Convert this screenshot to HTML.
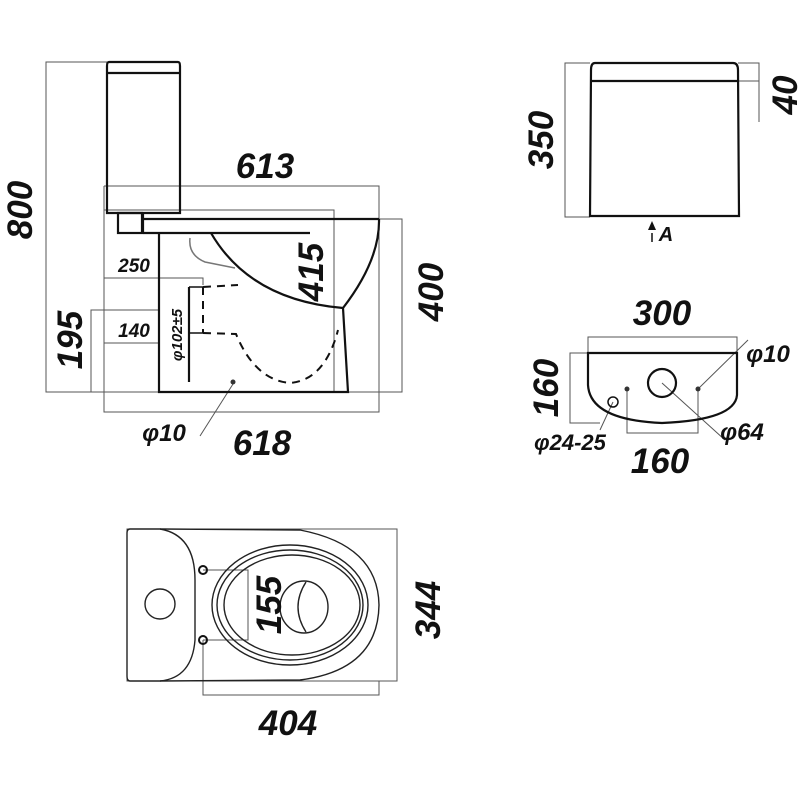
<!DOCTYPE html>
<html><head><style>html,body{margin:0;background:#fff}svg{display:block}
text{font-family:"Liberation Sans",sans-serif;font-style:italic;font-weight:bold;fill:#111}</style></head>
<body>
<svg width="800" height="800" viewBox="0 0 800 800" xmlns="http://www.w3.org/2000/svg">
<g fill="none" stroke="#555" stroke-width="1">
<polyline points="107,62 46,62 46,392 402,392 402,219 379,219"/>
<polyline points="104,186 379,186 379,412 104,412 104,186"/>
<polyline points="104,210 334,210 334,392"/>
<polyline points="104,278 203,278 203,285"/>
<line x1="104" y1="343" x2="159" y2="343"/>
<polyline points="159,310 91,310 91,392"/>
<line x1="233" y1="384" x2="200" y2="436"/>
<rect x="127" y="529" width="270" height="152"/>
<polyline points="203,640 203,695 379,695 379,681"/>
<polyline points="203,570 248,570 248,640 203,640"/>
<polyline points="590,63 565,63 565,217 590,217"/>
<polyline points="738,63 759,63 759,122"/>
<line x1="738" y1="81" x2="759" y2="81"/>
<polyline points="588,353 588,337 737,337 737,353"/>
<polyline points="588,353 570,353 570,423 600,423"/>
<polyline points="627,389 627,433 698,433 698,389"/>
<line x1="698" y1="389" x2="748" y2="340"/>
<line x1="662" y1="383" x2="725" y2="440"/>
<line x1="613" y1="402" x2="600" y2="430"/>
</g>
<g fill="none" stroke="#111" stroke-width="2.2">
<path d="M109,62 L178,62 Q180,62 180,66 L180,213 L107,213 L107,66 Q107,62 109,62 Z"/>
<line x1="108" y1="73" x2="179" y2="73"/>
<rect x="118" y="213" width="24" height="20"/>
<line x1="143" y1="219" x2="379" y2="219"/>
<line x1="143" y1="233" x2="310" y2="233"/>
<line x1="143" y1="213" x2="143" y2="233"/>
<path d="M159,233 L159,392 L348,392 L343,308 Q380,260 379,219"/>
<path d="M211,233 Q250,300 343,308"/>
<line x1="189" y1="287" x2="189" y2="382"/>
<line x1="189" y1="287" x2="203" y2="287" stroke-width="1.5"/>
<line x1="189" y1="333" x2="203" y2="333" stroke-width="1.5"/>
</g>
<path d="M190,238 Q188,255 205,262 L235,268" fill="none" stroke="#777" stroke-width="1.5"/>
<g fill="none" stroke="#111" stroke-width="2" stroke-dasharray="8,6">
<path d="M203,287 L238,285"/>
<path d="M203,287 L203,333"/>
<path d="M203,333 L236,334 Q255,380 290,383 Q325,380 338,330"/>
</g>
<circle cx="233" cy="382" r="2.5" fill="#333"/>
<g fill="none" stroke="#222" stroke-width="1.4">
<path d="M130,529 L160,529 Q195,535 195,580 L195,640 Q192,678 160,681 L130,681 Q127,681 127,676 L127,533 Q127,529 130,529 Z"/>
<path d="M160,529 L300,530 Q378,545 379,605 Q378,670 300,680 L160,681"/>
<ellipse cx="290" cy="605" rx="78" ry="60"/>
<ellipse cx="290" cy="605" rx="73" ry="55"/>
<ellipse cx="292" cy="605" rx="68" ry="50"/>
<circle cx="160" cy="604" r="15"/>
<ellipse cx="304" cy="607" rx="24" ry="26"/>
<path d="M306,582 Q290,607 306,632"/>
</g>
<circle cx="203" cy="570" r="4" fill="none" stroke="#111" stroke-width="2"/>
<circle cx="203" cy="640" r="4" fill="none" stroke="#111" stroke-width="2"/>
<g fill="none" stroke="#111" stroke-width="2.2">
<path d="M595,63 L733,63 Q738,63 738,70 L739,216 L590,216 L591,70 Q591,63 595,63 Z"/>
<line x1="591" y1="81" x2="738" y2="81"/>
<path d="M588,353 L737,353 L737,395 Q735,420 662,423 Q590,420 588,385 Z"/>
<circle cx="662" cy="383" r="14"/>
</g>
<circle cx="613" cy="402" r="5" fill="none" stroke="#111" stroke-width="1.5"/>
<circle cx="627" cy="389" r="2.5" fill="#333"/>
<circle cx="698" cy="389" r="2.5" fill="#333"/>
<line x1="652" y1="233" x2="652" y2="242" stroke="#111" stroke-width="1.5"/>
<polygon points="652,221 648,230 656,230" fill="#111"/>
<text x="265" y="178" font-size="35" text-anchor="middle">613</text>
<text x="134" y="272" font-size="19" text-anchor="middle">250</text>
<text x="134" y="337" font-size="19" text-anchor="middle">140</text>
<text transform="translate(82,340) rotate(-90)" font-size="35" text-anchor="middle">195</text>
<text transform="translate(32,210) rotate(-90)" font-size="35" text-anchor="middle">800</text>
<text transform="translate(323,272) rotate(-90)" font-size="35" text-anchor="middle">415</text>
<text transform="translate(443,292) rotate(-90)" font-size="35" text-anchor="middle">400</text>
<text transform="translate(182,335) rotate(-90)" font-size="15" text-anchor="middle">φ102±5</text>
<text x="262" y="455" font-size="35" text-anchor="middle">618</text>
<text x="164" y="441" font-size="24" text-anchor="middle">φ10</text>
<text x="288" y="735" font-size="35" text-anchor="middle">404</text>
<text transform="translate(440,610) rotate(-90)" font-size="35" text-anchor="middle">344</text>
<text transform="translate(281,605) rotate(-90)" font-size="35" text-anchor="middle">155</text>
<text transform="translate(553,140) rotate(-90)" font-size="35" text-anchor="middle">350</text>
<text transform="translate(797,95) rotate(-90)" font-size="35" text-anchor="middle">40</text>
<text x="666" y="241" font-size="20" text-anchor="middle">A</text>
<text x="662" y="325" font-size="35" text-anchor="middle">300</text>
<text transform="translate(558,388) rotate(-90)" font-size="35" text-anchor="middle">160</text>
<text x="768" y="362" font-size="24" text-anchor="middle">φ10</text>
<text x="742" y="440" font-size="24" text-anchor="middle">φ64</text>
<text x="570" y="450" font-size="22" text-anchor="middle">φ24-25</text>
<text x="660" y="473" font-size="35" text-anchor="middle">160</text>
</svg>
</body></html>
